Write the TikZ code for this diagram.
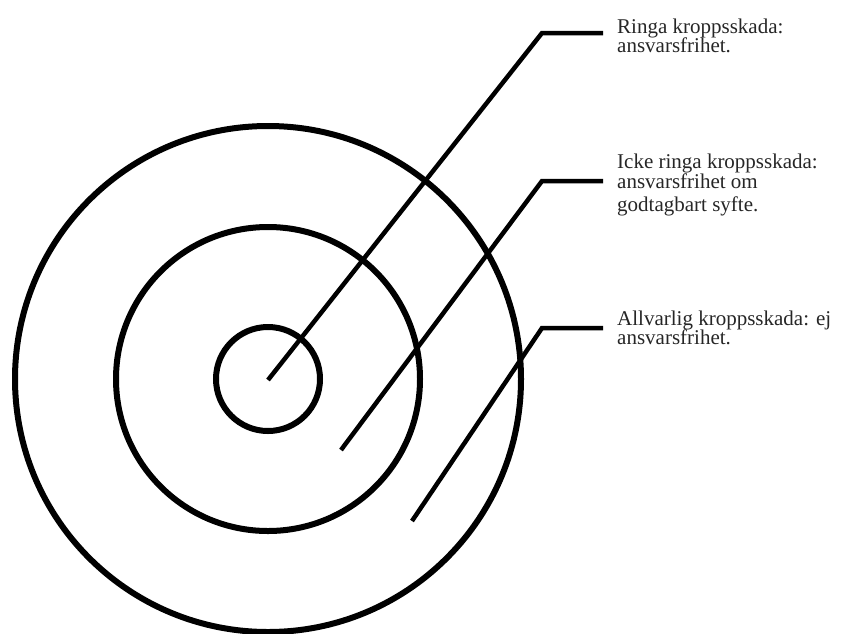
\documentclass[tikz,border=0pt]{standalone}
\usepackage{fontspec}
\setmainfont{Liberation Serif}
\begin{document}
\begin{tikzpicture}[x=1pt,y=-1pt,
  ring/.style={draw=black,line width=6pt},
  leader/.style={draw=black,line width=4.5pt,line join=miter,line cap=butt},
  lbl/.style={anchor=base west,inner sep=0pt,font=\fontsize{21}{21}\selectfont,text=black!85}]
\useasboundingbox (0,0) rectangle (844,633);
\coordinate (c) at (268,379);
\draw[ring] (c) circle[radius=52];
\draw[ring] (c) circle[radius=152];
\draw[ring] (c) circle[radius=253];
\coordinate (s1) at (268,380);
\coordinate (b1) at (542,33);
\coordinate (e1) at (603,33);
\coordinate (s2) at (341,450);
\coordinate (b2) at (542,181);
\coordinate (e2) at (603,181);
\coordinate (s3) at (412,521);
\coordinate (b3) at (542,328);
\coordinate (e3) at (603,328);
\draw[leader] (s1) -- (b1) -- (e1);
\draw[leader] (s2) -- (b2) -- (e2);
\draw[leader] (s3) -- (b3) -- (e3);
\node[lbl] (t1a) at (617,33) {Ringa kroppsskada:};
\node[lbl] (t1b) at (617,52.5) {ansvarsfrihet.};
\node[lbl] (t2a) at (617,168) {Icke ringa kroppsskada:};
\node[lbl] (t2b) at (617,188) {ansvarsfrihet om};
\node[lbl] (t2c) at (617,211) {godtagbart syfte.};
\node[lbl] (t3a) at (617,325) {Allvarlig kroppsskada: ej};
\node[lbl] (t3b) at (617,344.5) {ansvarsfrihet.};
\end{tikzpicture}
\end{document}
